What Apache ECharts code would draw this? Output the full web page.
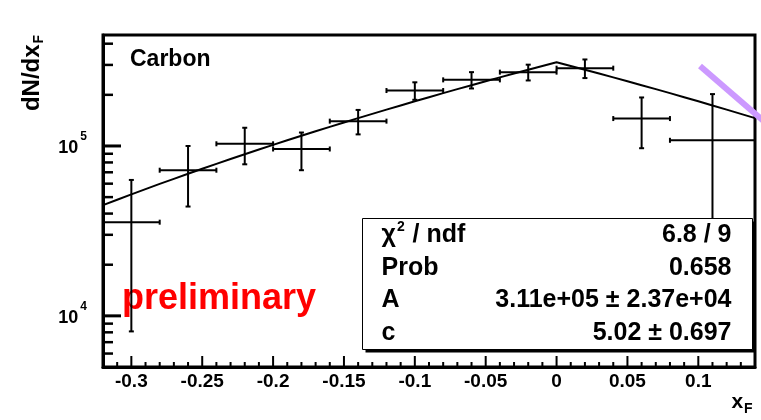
<!DOCTYPE html>
<html>
<head>
<meta charset="utf-8">
<script src="https://cdn.jsdelivr.net/npm/echarts@6.0.0/dist/echarts.min.js"></script>
<style>
  html, body { margin: 0; padding: 0; background: #fff; }
  #chart { width: 761px; height: 420px; }
</style>
</head>
<body>
<div id="chart"></div>
<script>
// xF bins: centre, half width, measured yield and its uncertainty
const xCenters    = [-0.30, -0.26, -0.22, -0.18, -0.14, -0.10, -0.06, -0.02, 0.02, 0.06, 0.11];
const xHalfWidths = [0.02, 0.02, 0.02, 0.02, 0.02, 0.02, 0.02, 0.02, 0.02, 0.02, 0.03];
const yields      = [35600, 72000, 103000, 96000, 140000, 212000, 245000, 272000, 287000, 145000, 108000];
const yieldErrors = [27500, 28000, 25000, 24000, 23000, 25000, 27000, 29000, 36000, 48000, 94000];

// axis ranges and ticks
const xRange = [-0.32, 0.14];
const yRange = [5000, 450000];
const xTickValues = [-0.3, -0.25, -0.2, -0.15, -0.1, -0.05, 0, 0.05, 0.1];
const xTickLabels = ['-0.3', '-0.25', '-0.2', '-0.15', '-0.1', '-0.05', '0', '0.05', '0.1'];
const xMinorTickValues = [-0.31, -0.29, -0.28, -0.27, -0.26, -0.24, -0.23, -0.22, -0.21,
  -0.19, -0.18, -0.17, -0.16, -0.14, -0.13, -0.12, -0.11, -0.09, -0.08, -0.07, -0.06,
  -0.04, -0.03, -0.02, -0.01, 0.01, 0.02, 0.03, 0.04, 0.06, 0.07, 0.08, 0.09, 0.11, 0.12, 0.13];
const yTickValues = [10000, 100000];
const yTickExponents = ['4', '5'];
const yMinorTickValues = [6000, 7000, 8000, 9000, 20000, 30000, 40000, 50000, 60000, 70000,
  80000, 90000, 200000, 300000, 400000];

// fit result: dN/dxF = A (1 - |xF|)^c
const fitA = 3.11e5;
const fitC = 5.02;
const statNames  = ['chi2', 'Prob', 'A', 'c'];
const statValues = ['6.8 / 9', '0.658', '3.11e+05 \u00b1 2.37e+04', '5.02 \u00b1 0.697'];

const FONT = '"Liberation Sans", Arial, Helvetica, sans-serif';

const points = xCenters.map((x, i) => [x, yields[i], xHalfWidths[i], yieldErrors[i]]);

// fitted curve evaluated across the plotted xF range
const fitCurve = [];
for (let i = Math.round(xRange[0] * 100); i <= Math.round(xRange[1] * 100); i++) {
  const x = i / 100;
  fitCurve.push([x, fitA * Math.pow(1 - Math.abs(x), fitC)]);
}

// tick marks drawn inside the frame: [x, y, isMajor]
const xTickMarks = xTickValues.map(v => [v, yRange[0], 1])
  .concat(xMinorTickValues.map(v => [v, yRange[0], 0]));
const yTickMarks = yTickValues.map(v => [xRange[0], v, 1])
  .concat(yMinorTickValues.map(v => [xRange[0], v, 0]));

function nearestLabel(v, values, labels) {
  let best = 0;
  values.forEach((t, i) => { if (Math.abs(t - v) < Math.abs(values[best] - v)) best = i; });
  return labels[best];
}

function renderErrorBar(params, api) {
  const x = api.value(0), y = api.value(1), dx = api.value(2), dy = api.value(3);
  const l = api.coord([x - dx, y]);
  const r = api.coord([x + dx, y]);
  const t = api.coord([x, y + dy]);
  const b = api.coord([x, Math.max(y - dy, 1)]);
  const cap = 2.5;
  const style = { stroke: '#000', lineWidth: 2, fill: null };
  const seg = (x1, y1, x2, y2) => ({ type: 'line', shape: { x1, y1, x2, y2 }, style });
  const cs = params.coordSys;
  return {
    type: 'group',
    clipPath: { type: 'rect', shape: { x: cs.x, y: cs.y, width: cs.width, height: cs.height } },
    children: [
      seg(l[0], l[1], r[0], r[1]),
      seg(t[0], t[1], b[0], b[1]),
      seg(l[0], l[1] - cap, l[0], l[1] + cap),
      seg(r[0], r[1] - cap, r[0], r[1] + cap),
      seg(t[0] - cap, t[1], t[0] + cap, t[1]),
      seg(b[0] - cap, b[1], b[0] + cap, b[1])
    ]
  };
}

function renderXTick(params, api) {
  const p = api.coord([api.value(0), api.value(1)]);
  const major = api.value(2) === 1;
  const len = major ? 11 : 5;
  return { type: 'line', shape: { x1: p[0], y1: p[1], x2: p[0], y2: p[1] - len },
    style: { stroke: '#000', lineWidth: 2 } };
}

function renderYTick(params, api) {
  const p = api.coord([api.value(0), api.value(1)]);
  const major = api.value(2) === 1;
  const len = major ? 18 : 10;
  return { type: 'line', shape: { x1: p[0], y1: p[1], x2: p[0] + len, y2: p[1] },
    style: { stroke: '#000', lineWidth: major ? 3 : 2.5 } };
}

const chart = echarts.init(document.getElementById('chart'), null, { renderer: 'canvas' });

const labelFont = { fontFamily: FONT, fontWeight: 'bold', color: '#000' };

// statistics box rows
const STAT_SIZE = 25;
const boxLeft = 362.5, boxTop = 218.5, boxWidth = 390, boxHeight = 131;
const rowH = boxHeight / statNames.length;
const statTexts = [];
statNames.forEach((name, i) => {
  const cy = boxTop + rowH * (i + 0.5);
  const nameText = name === 'chi2'
    ? { text: '{m|\u03c7}{s|2}{m| / ndf}', rich: {
          m: { fontSize: STAT_SIZE, fontWeight: 'bold', fontFamily: FONT, verticalAlign: 'middle', fill: '#000' },
          s: { fontSize: 14, fontWeight: 'bold', fontFamily: FONT, verticalAlign: 'middle', padding: [0, 1, 16, 1], fill: '#000' } } }
    : { text: name };
  statTexts.push({
    type: 'text', x: boxLeft + 19, y: cy, z: 20,
    style: Object.assign({ font: 'bold ' + STAT_SIZE + 'px ' + FONT, fill: '#000', align: 'left', verticalAlign: 'middle' }, nameText)
  });
  statTexts.push({
    type: 'text', x: boxLeft + boxWidth - 21, y: cy, z: 20,
    style: { text: statValues[i], font: 'bold ' + STAT_SIZE + 'px ' + FONT, fill: '#000', align: 'right', verticalAlign: 'middle' }
  });
});

const option = {
  animation: false,
  backgroundColor: '#fff',
  grid: { left: 103, top: 35, width: 652, height: 332, show: true, borderColor: '#000', borderWidth: 3, containLabel: false },
  xAxis: {
    type: 'value', min: xRange[0], max: xRange[1], position: 'bottom',
    axisLine: { show: true, onZero: false, lineStyle: { color: '#000', width: 3 } },
    axisTick: { show: false },
    axisLabel: Object.assign({ customValues: xTickValues, fontSize: 19, margin: 5, hideOverlap: false,
      formatter: v => nearestLabel(v, xTickValues, xTickLabels) }, labelFont),
    splitLine: { show: false }
  },
  yAxis: {
    type: 'log', logBase: 10, min: yRange[0], max: yRange[1], position: 'left',
    axisLine: { show: true, onZero: false, lineStyle: { color: '#000', width: 3 } },
    axisTick: { show: false },
    axisLabel: {
      customValues: yTickValues, margin: 16, hideOverlap: false,
      formatter: v => '{b|10}{s|' + nearestLabel(v, yTickValues, yTickExponents) + '}',
      rich: {
        b: { fontSize: 18, fontWeight: 'bold', fontFamily: FONT, color: '#000', verticalAlign: 'middle', padding: [4, 0, 0, 0] },
        s: { fontSize: 12, fontWeight: 'bold', fontFamily: FONT, color: '#000', verticalAlign: 'middle', padding: [0, 0, 18, 2] }
      }
    },
    splitLine: { show: false }
  },
  series: [
    {
      name: 'fit', type: 'line', data: fitCurve,
      showSymbol: false, symbol: 'none', clip: true, z: 3,
      lineStyle: { color: '#000', width: 2 }, silent: true
    },
    {
      name: 'Carbon', type: 'custom', data: points,
      encode: { x: 0, y: 1 }, renderItem: renderErrorBar, z: 4, silent: true
    },
    {
      name: 'xTicks', type: 'custom', data: xTickMarks,
      encode: { x: 0, y: 1 }, renderItem: renderXTick, z: 5, silent: true
    },
    {
      name: 'yTicks', type: 'custom', data: yTickMarks,
      encode: { x: 0, y: 1 }, renderItem: renderYTick, z: 5, silent: true
    }
  ],
  graphic: [
    { type: 'text', x: 130, y: 60, z: 10,
      style: { text: 'Carbon', font: 'bold 23px ' + FONT, fill: '#000', align: 'left', verticalAlign: 'middle' } },
    { type: 'text', x: 122, y: 299, z: 1,
      style: { text: 'preliminary', font: 'bold 36px ' + FONT, fill: '#ff0000', align: 'left', verticalAlign: 'middle' } },
    // statistics box with drop shadow
    { type: 'rect', z: 18, shape: { x: boxLeft + 3, y: boxTop + 3, width: boxWidth, height: boxHeight },
      style: { fill: '#000' } },
    { type: 'rect', z: 19, shape: { x: boxLeft, y: boxTop, width: boxWidth, height: boxHeight },
      style: { fill: '#fff', stroke: '#000', lineWidth: 1 } },
    ...statTexts,
    // axis titles
    { type: 'text', x: 32, y: 73, rotation: Math.PI / 2, z: 10,
      style: { text: '{m|dN/dx}{s|F}', align: 'center', verticalAlign: 'middle', rich: {
        m: { fontSize: 24, fontWeight: 'bold', fontFamily: FONT, fill: '#000', verticalAlign: 'middle' },
        s: { fontSize: 14, fontWeight: 'bold', fontFamily: FONT, fill: '#000', verticalAlign: 'middle', padding: [14, 0, 0, 1] } } } },
    { type: 'text', x: 742, y: 402, z: 10,
      style: { text: '{m|x}{s|F}', align: 'center', verticalAlign: 'middle', rich: {
        m: { fontSize: 21, fontWeight: 'bold', fontFamily: FONT, fill: '#000', verticalAlign: 'middle' },
        s: { fontSize: 14, fontWeight: 'bold', fontFamily: FONT, fill: '#000', verticalAlign: 'middle', padding: [14, 0, 0, 1] } } } },
    // highlight stroke at the upper right
    { type: 'line', z: 30, shape: { x1: 700, y1: 66, x2: 766, y2: 123 },
      style: { stroke: '#cc99ff', lineWidth: 6 } }
  ]
};

chart.setOption(option);
</script>
</body>
</html>
